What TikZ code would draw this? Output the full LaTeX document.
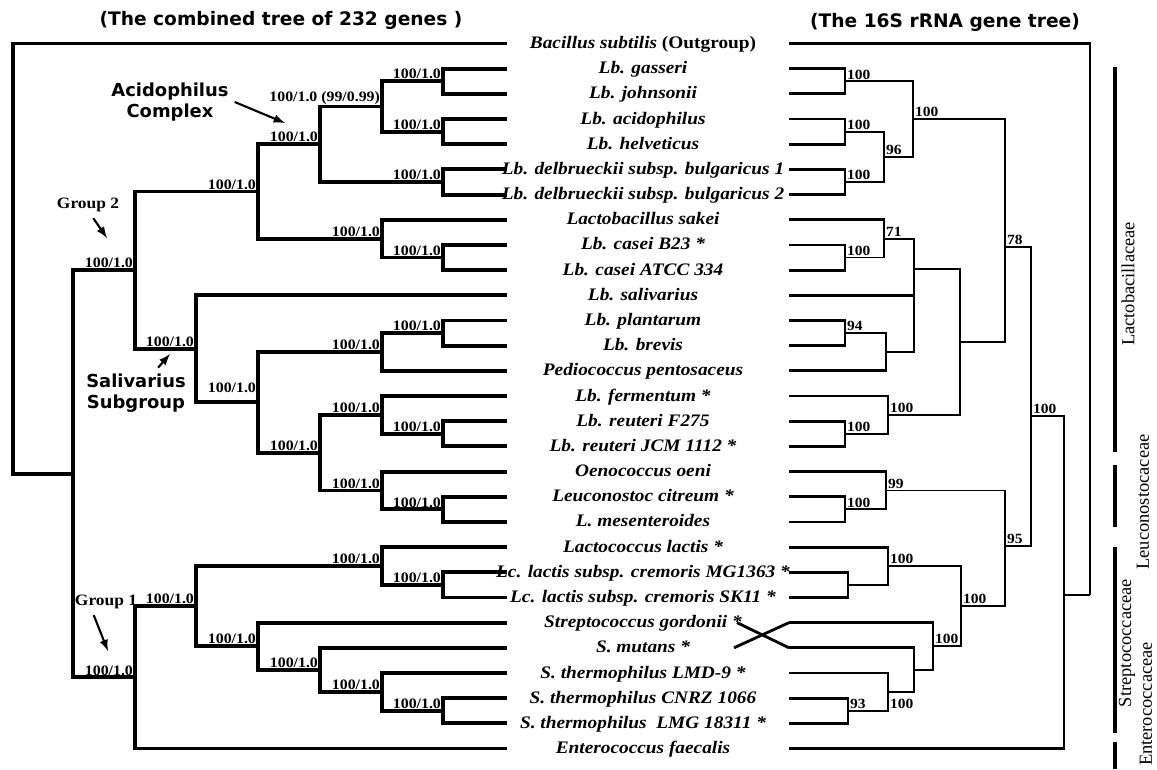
\documentclass[tikz,border=0pt]{standalone}
\usepackage{fontspec}
\setmainfont{Liberation Serif}[FakeStretch=1.1]
\newfontfamily\famfont{Liberation Serif}
\newfontfamily\headfont{DejaVu Sans}
\tikzset{
  ltree/.style={line width=2.2pt},
  rtree/.style={line width=1.1pt},
  rleaf/.style={line width=1.6pt},
  taxon/.style={font=\fontsize{10}{12}\selectfont\bfseries\itshape, inner sep=0pt, anchor=mid},
  lboot/.style={font=\fontsize{8.2}{10}\selectfont\bfseries, inner sep=1pt, anchor=south east},
  rboot/.style={font=\fontsize{8}{10}\selectfont\bfseries, inner sep=1pt, anchor=south west},
  heading/.style={font=\headfont\fontsize{10.6}{12}\selectfont\bfseries},
  callout/.style={font=\headfont\fontsize{10.2}{11.8}\selectfont\bfseries, align=center},
  grouplab/.style={font=\fontsize{9}{11}\selectfont\bfseries},
  pointer/.style={line width=1.2pt, -latex},
  family/.style={font=\famfont\fontsize{10.5}{12}\selectfont, rotate=90, inner sep=0pt},
  famline/.style={line width=1.8pt}
}
\begin{document}
\begin{tikzpicture}[x=0.02cm, y=-0.02cm]
\useasboundingbox (0,0) rectangle (1157,769);
\node[heading] (lhead) at (281,20) {(The combined tree of 232 genes )};
\node[heading] (rhead) at (945,22) {(The 16S rRNA gene tree)};

\foreach \txt [count=\i from 0] in {{Bacillus subtilis \upshape(Outgroup)}, {Lb. gasseri}, {Lb. johnsonii},
    {Lb. acidophilus}, {Lb. helveticus}, {Lb. delbrueckii subsp. bulgaricus 1},
    {Lb. delbrueckii subsp. bulgaricus 2}, {Lactobacillus sakei}, {Lb. casei B23 *},
    {Lb. casei ATCC 334}, {Lb. salivarius}, {Lb. plantarum}, {Lb. brevis},
    {Pediococcus pentosaceus}, {Lb. fermentum *}, {Lb. reuteri F275}, {Lb. reuteri JCM 1112 *},
    {Oenococcus oeni}, {Leuconostoc citreum *}, {L. mesenteroides}, {Lactococcus lactis *},
    {Lc. lactis subsp. cremoris MG1363 *}, {Lc. lactis subsp. cremoris SK11 *},
    {Streptococcus gordonii *}, {S. mutans *}, {S. thermophilus LMD-9 *},
    {S. thermophilus CNRZ 1066}, {S. thermophilus\ \ LMG 18311 *}, {Enterococcus faecalis}} {
  \coordinate (L\i) at (507,{43.5+25.18*\i});
  \coordinate (R\i) at (789,{43.5+25.18*\i});
  \node[taxon] (T\i) at (643,{44.5+25.18*\i}) {\txt};
}

\coordinate (root) at (13,258.6);
\coordinate (IN) at (73,473.8);
\coordinate (G2) at (135,270.2);
\coordinate (G1) at (135,677.3);
\coordinate (A) at (258,191.5);
\coordinate (AC) at (320,144.2);
\coordinate (GA) at (382,106.5);
\coordinate (GJ) at (443,81.3);
\coordinate (AH) at (443,131.6);
\coordinate (DB) at (443,182.0);
\coordinate (CS) at (382,238.7);
\coordinate (CA) at (443,257.5);
\coordinate (S) at (196,348.8);
\coordinate (PF) at (258,402.3);
\coordinate (PB) at (382,352.0);
\coordinate (PBr) at (443,333.1);
\coordinate (FL) at (320,452.7);
\coordinate (FR) at (382,414.9);
\coordinate (RR) at (443,433.8);
\coordinate (LE) at (382,490.5);
\coordinate (LM) at (443,509.3);
\coordinate (LS) at (196,606.1);
\coordinate (LL) at (382,566.0);
\coordinate (MS) at (443,584.9);
\coordinate (ST) at (258,646.2);
\coordinate (MT) at (320,669.9);
\coordinate (TH) at (382,691.9);
\coordinate (CL) at (443,710.8);

\foreach \p/\c in {root/L0, root/IN, IN/G2, IN/G1, G2/A, G2/S, A/AC, A/CS, AC/GA, AC/DB,
    GA/GJ, GA/AH, GJ/L1, GJ/L2, AH/L3, AH/L4, DB/L5, DB/L6, CS/L7, CS/CA, CA/L8, CA/L9,
    S/L10, S/PF, PF/PB, PF/FL, PB/PBr, PB/L13, PBr/L11, PBr/L12, FL/FR, FL/LE, FR/L14,
    FR/RR, RR/L15, RR/L16, LE/L17, LE/LM, LM/L18, LM/L19, G1/LS, G1/L28, LS/LL, LS/ST,
    LL/L20, LL/MS, MS/L21, MS/L22, ST/L23, ST/MT, MT/L24, MT/TH, TH/L25, TH/CL, CL/L26, CL/L27}
  \draw[ltree] (\p) |- (\c);

\foreach \n in {G1,G2,A,AC,GJ,AH,DB,CS,CA,S,PB,PBr,FL,FR,RR,LE,LM,LS,LL,MS,ST,MT,TH,CL}
  \node[lboot] at (\n) {100/1.0};
\node[lboot] at (GA) {100/1.0 (99/0.99)};
\node[lboot, yshift=4pt] at (PF) {100/1.0};

\coordinate (rGJ) at (845,81.3);
\coordinate (rAH) at (845,131.6);
\coordinate (rDB) at (845,182.0);
\coordinate (r96) at (884,156.8);
\coordinate (rA) at (913,119.0);
\coordinate (rCA) at (845,257.5);
\coordinate (r71) at (884,238.7);
\coordinate (rPB) at (845,333.1);
\coordinate (rPP) at (886,352.0);
\coordinate (rX) at (914,269);
\coordinate (rRR) at (845,433.8);
\coordinate (rFR) at (888,414.9);
\coordinate (rY) at (960,342);
\coordinate (r78) at (1005,247);
\coordinate (rLM) at (845,509.3);
\coordinate (r99) at (886,490.5);
\coordinate (rMS) at (848,584.9);
\coordinate (rLL) at (888,566.0);
\coordinate (rCL) at (848,710.8);
\coordinate (rTH) at (888,691.9);
\coordinate (rMT) at (914,669.9);
\coordinate (rST) at (933,646.2);
\coordinate (rLS) at (961,606.1);
\coordinate (r95) at (1005,546);
\coordinate (rB) at (1031,416);
\coordinate (rE) at (1064,595);
\coordinate (rroot) at (1090,595);

\foreach \p/\c in {rGJ/R1, rGJ/R2, rAH/R3, rAH/R4, rDB/R5, rDB/R6, r71/R7, rCA/R8, rCA/R9,
    rX/R10, rPB/R11, rPB/R12, rPP/R13, rFR/R14, rRR/R15, rRR/R16, r99/R17, rLM/R18, rLM/R19,
    rLL/R20, rMS/R21, rMS/R22, rST/R23, rMT/R24, rTH/R25, rCL/R26, rCL/R27, rE/R28, rroot/R0}
  \draw[rleaf] (\p) |- (\c);
\foreach \p/\c in {r96/rAH, r96/rDB, rA/rGJ, rA/r96, r71/rCA, rPP/rPB, rX/r71, rX/rPP,
    rFR/rRR, rY/rX, rY/rFR, r78/rA, r78/rY, r99/rLM, rLL/rMS, rTH/rCL, rMT/rTH, rST/rMT,
    rLS/rLL, rLS/rST, r95/r99, r95/rLS, rB/r78, rB/r95, rE/rB, rroot/rE}
  \draw[rtree] (\p) |- (\c);

\coordinate (X23) at (737,622.6);
\coordinate (X24) at (734,647.8);
\draw[rleaf] (X23) -- (R24);
\draw[rleaf] (X24) -- (R23);

\foreach \n in {rGJ,rAH,rDB,rA,rCA,rRR,rFR,rLM,rLL,rLS,rST,rB}
  \node[rboot] at (\n) {100};
\node[rboot] at (r96) {96};
\node[rboot] at (r71) {71};
\node[rboot] at (rPB) {94};
\node[rboot] at (r99) {99};
\node[rboot] at (r95) {95};
\node[rboot] at (r78) {78};
\node[rboot] at (rCL) {93};
\node[rboot] at (rTH |- rCL) {100};

\node[callout] (acx) at (170,102) {Acidophilus\\Complex};
\coordinate (acxtip) at (285,123);
\draw[pointer] (acx.east) -- (acxtip);
\node[grouplab] (grp2) at (88,205) {Group 2};
\coordinate (grp2tip) at (107,238);
\draw[pointer] ([xshift=3pt]grp2.south) -- (grp2tip);
\node[callout] (salv) at (136,393) {Salivarius\\Subgroup};
\coordinate (salvtip) at (170,354);
\draw[pointer] (salv) -- (salvtip);
\node[grouplab] (grp1) at (106,602) {Group 1};
\coordinate (grp1tip) at (108,651);
\draw[pointer] ([xshift=-7pt]grp1.south) -- (grp1tip);

\draw[famline] (1115,67) -- (1115,452);
\draw[famline] (1115,465) -- (1115,527);
\draw[famline] (1115,547) -- (1115,733);
\draw[famline] (1115,742) -- (1115,769);
\node[family] (lacto) at (1128,284) {Lactobacillaceae};
\node[family] (leuco) at (1143,502) {Leuconostocaceae};
\node[family] (strep) at (1127,643) {Streptococcaceae};
\node[family] (entero) at (1146,704) {Enterococcaceae};
\end{tikzpicture}
\end{document}
